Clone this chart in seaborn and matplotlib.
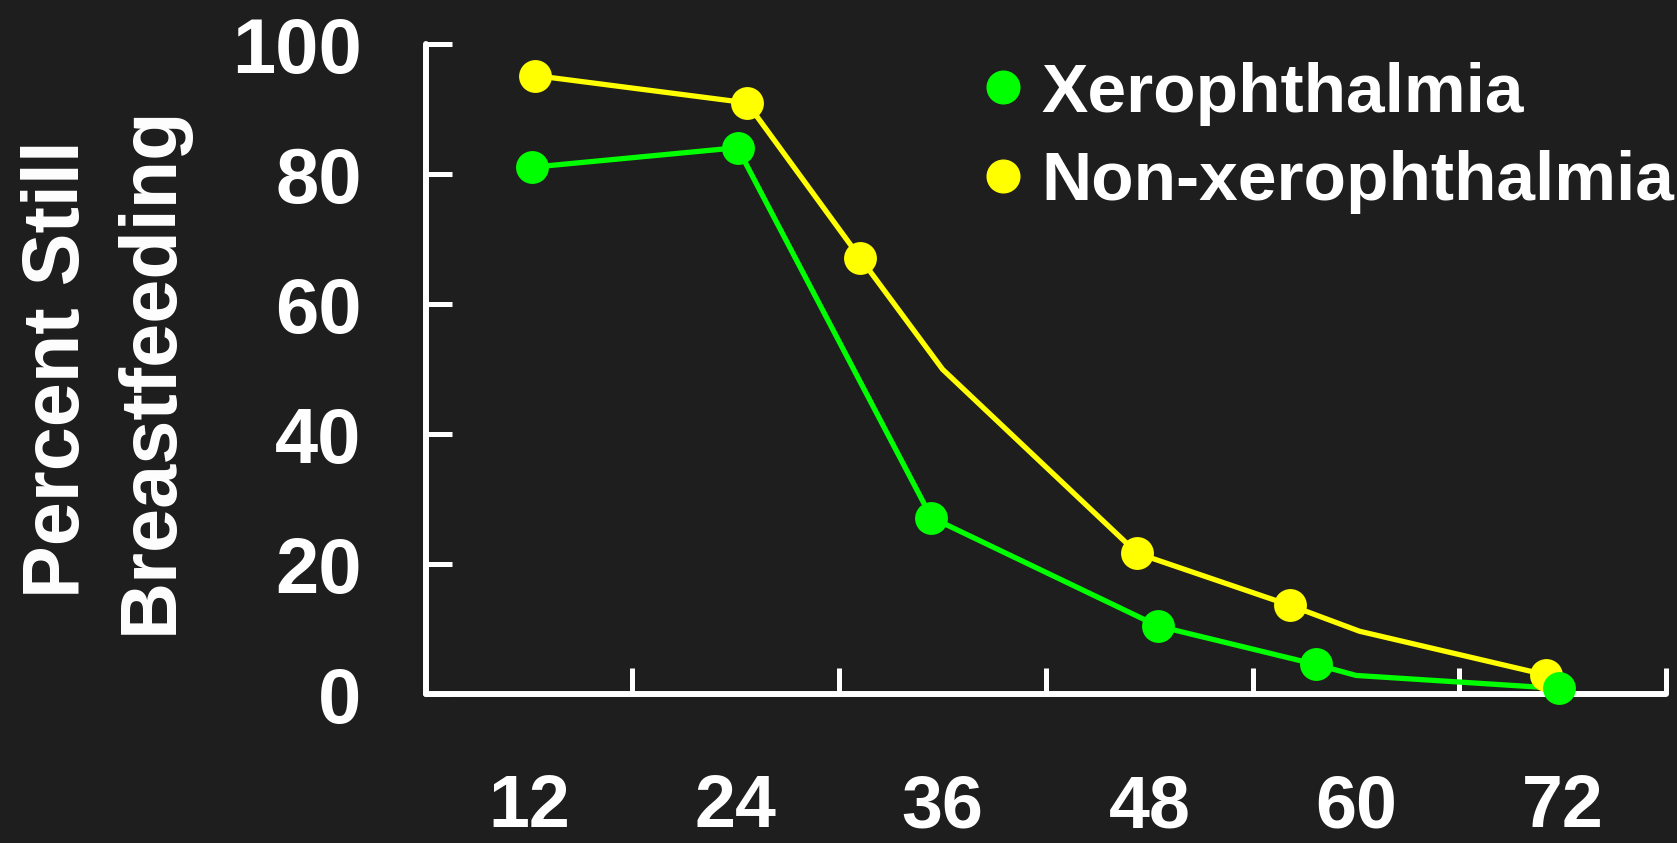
import pandas as pd
import seaborn as sns
import matplotlib.pyplot as plt
from matplotlib.lines import Line2D

# months of age vs percent still breastfeeding
xero_months = [12.2, 24.1, 35.35, 48.5, 57.65, 60.0, 71.8]
xero_pct = [81.1, 84.1, 27.2, 10.5, 4.6, 2.9, 0.9]
xero_dot = [True, True, True, True, True, False, True]

nonxero_months = [12.35, 24.65, 31.2, 36.0, 47.3, 56.15, 60.2, 71.0]
nonxero_pct = [95.2, 91.0, 67.2, 50.0, 21.7, 13.7, 9.7, 3.0]
nonxero_dot = [True, True, True, False, True, True, False, True]

age_labels = [12, 24, 36, 48, 60, 72]
age_ticks = [18, 30, 42, 54, 66, 78]
pct_ticks = [0, 20, 40, 60, 80, 100]

groups = ['Xerophthalmia', 'Non-xerophthalmia']
colors = {'Xerophthalmia': '#00FF00', 'Non-xerophthalmia': '#FFFF00'}

df = pd.concat([
    pd.DataFrame({'month': nonxero_months, 'pct': nonxero_pct, 'dot': nonxero_dot, 'group': groups[1]}),
    pd.DataFrame({'month': xero_months, 'pct': xero_pct, 'dot': xero_dot, 'group': groups[0]}),
])

bg = '#1E1E1E'
sns.set_style('dark', {'axes.facecolor': bg, 'figure.facecolor': bg})
plt.rcParams['font.family'] = ['Liberation Sans', 'DejaVu Sans']
plt.rcParams['font.weight'] = 'bold'

fig = plt.figure(figsize=(16.77, 8.43), dpi=100)
ax = fig.add_axes([0.2538, 0.1764, 0.7398, 0.7710])

# yellow first so green sits on top
for g in [groups[1], groups[0]]:
    sub = df[df['group'] == g]
    sns.lineplot(data=sub, x='month', y='pct', color=colors[g], lw=3.8,
                 sort=False, estimator=None, ax=ax, legend=False)
for g in [groups[1], groups[0]]:
    sub = df[(df['group'] == g) & df['dot']]
    sns.scatterplot(data=sub, x='month', y='pct', color=colors[g], s=560,
                    linewidth=0, ax=ax, legend=False, zorder=3, clip_on=False)

ax.set_xlim(6, 78)
ax.set_ylim(0, 100)
ax.grid(False)
for side in ['top', 'right']:
    ax.spines[side].set_visible(False)
for side in ['left', 'bottom']:
    ax.spines[side].set_color('white')
    ax.spines[side].set_linewidth(4.3)
    ax.spines[side].set_capstyle('round')

ax.set_xticks(age_ticks)
ax.set_xticklabels([])
ax.set_xticks(age_labels, minor=True)
ax.set_xticklabels([str(a) for a in age_labels], minor=True)
ax.tick_params(axis='x', which='major', bottom=True, direction='in', length=19,
               width=3.6, color='white')
ax.tick_params(axis='x', which='minor', bottom=True, length=0, pad=57,
               labelsize=53, labelcolor='white')
ax.set_yticks(pct_ticks)
ax.set_yticklabels([str(p) for p in pct_ticks])
ax.tick_params(axis='y', left=True, direction='in', length=19, width=3.6, color='white',
               pad=46, labelsize=56, labelcolor='white')
for lab in ax.get_xticklabels(minor=True) + ax.get_yticklabels():
    lab.set_fontweight('bold')

ax.set_xlabel('')
ax.set_ylabel('Percent Still\nBreastfeeding', fontsize=57, color='white',
              fontweight='bold', labelpad=31, linespacing=1.3)

handles = [Line2D([], [], ls='', marker='o', ms=23.5, color=colors[g]) for g in groups]
leg = ax.legend(handles, groups, loc='upper left', bbox_to_anchor=(0.588, 0.927),
                bbox_transform=fig.transFigure, frameon=False, fontsize=50,
                handlelength=0.5, handletextpad=0.3, labelspacing=0.35, borderpad=0,
                borderaxespad=0)
for t in leg.get_texts():
    t.set_color('white')
    t.set_fontweight('bold')

fig.savefig('out.png', dpi=100, facecolor=bg)
